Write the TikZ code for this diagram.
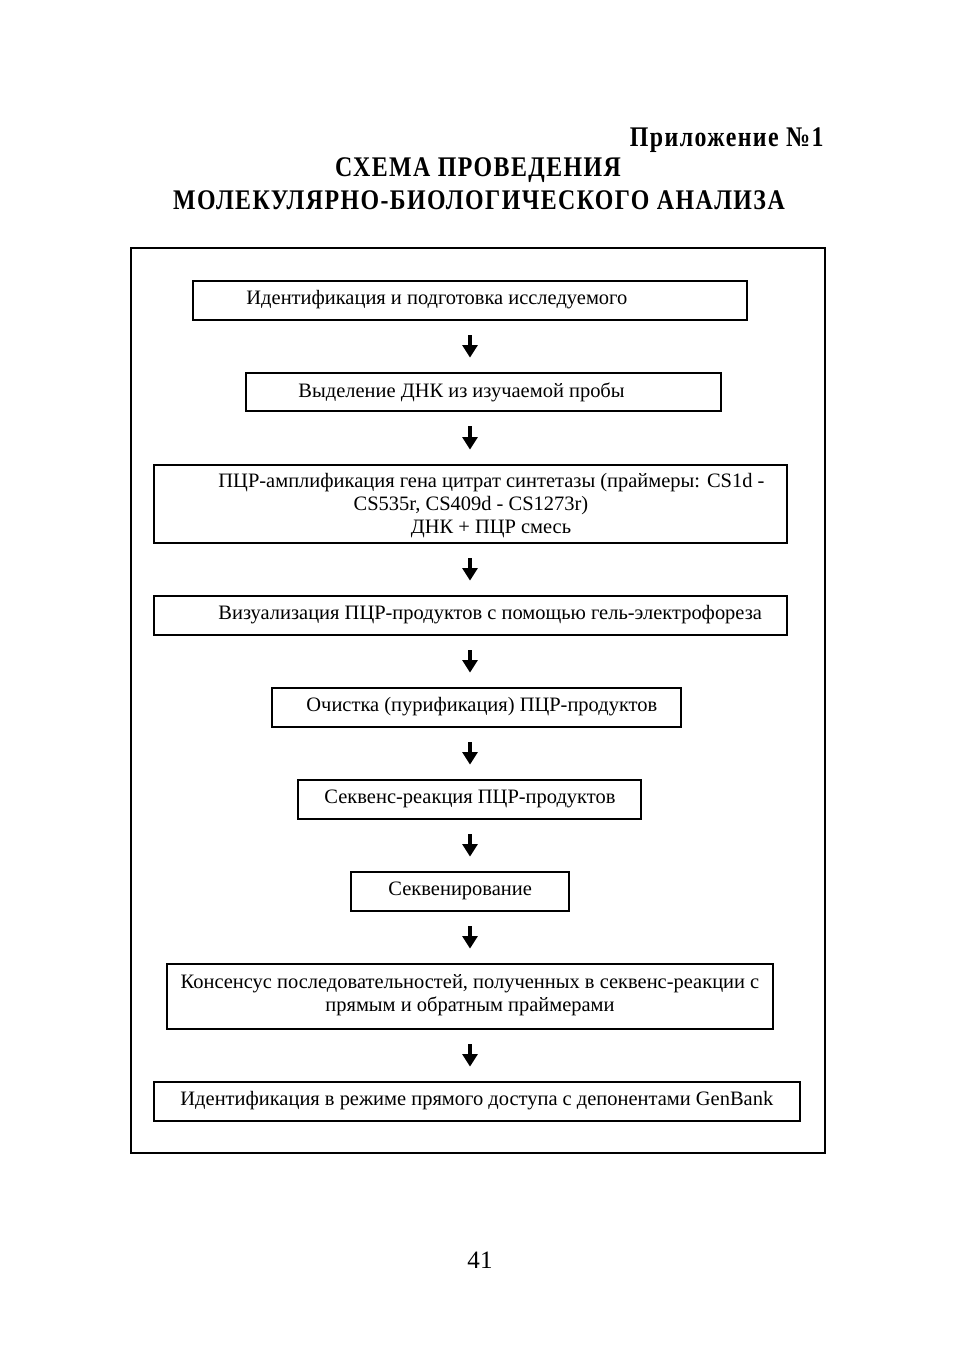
\documentclass[tikz,border=0pt]{standalone}
\usepackage{fontspec}
\setmainfont{Liberation Serif}
\newfontfamily\headfont{Liberation Serif Bold}[FakeStretch=0.84, LetterSpace=5]
\usetikzlibrary{arrows.meta,positioning,fit}

\tikzset{
  box/.style={draw, line width=0.5pt, inner sep=0pt},
  txt/.style={inner sep=0pt, font=\fontsize{9}{10.3}\selectfont},
  head/.style={inner sep=0pt, font=\headfont\fontsize{12.5}{14}\selectfont},
  flow/.style={-{Triangle[width=6.5pt,length=5.5pt]}, line width=1.4pt,
    shorten <=6.5pt, shorten >=6.5pt},
}

\begin{document}
\begin{tikzpicture}[x=0.4396pt, y=-0.4396pt]
  \useasboundingbox (0,0) rectangle (958,1350);
  % heading
  \node[head, anchor=east] (app) at (824,140) {Приложение №1};
  \node[head] (tit1) at (478,170) {СХЕМА ПРОВЕДЕНИЯ};
  \node[head] (tit2) at (479,200) {МОЛЕКУЛЯРНО-БИОЛОГИЧЕСКОГО АНАЛИЗА};
  % frame
  \draw[line width=1.3pt] (131,248) rectangle (825,1153);
  \coordinate (ax) at (470,0);
  % boxes
  \node[box, fit={(193,281) (747,320)}] (b1) {};
  \node[txt, anchor=west] (t1) at (246,300) {Идентификация и подготовка исследуемого};
  \node[box, fit={(246,373) (721,411)}] (b2) {};
  \node[txt, anchor=west] (t2) at (298,392) {Выделение ДНК из изучаемой пробы};
  \node[box, fit={(154,465) (787,543)}] (b3) {};
  \node[txt, anchor=west] (t3a) at (218,483) {ПЦР-амплификация гена цитрат синтетазы (праймеры: CS1d -};
  \node[txt] (t3b) at (471,506) {CS535r, CS409d - CS1273r)};
  \node[txt] (t3c) at (491,529) {ДНК + ПЦР смесь};
  \node[box, fit={(154,596) (787,635)}] (b4) {};
  \node[txt, anchor=west] (t4) at (218,615) {Визуализация ПЦР-продуктов с помощью гель-электрофореза};
  \node[box, fit={(272,688) (681,727)}] (b5) {};
  \node[txt, anchor=west] (t5) at (306,707) {Очистка (пурификация) ПЦР-продуктов};
  \node[box, fit={(298,780) (641,819)}] (b6) {};
  \node[txt, anchor=west] (t6) at (324,799) {Секвенс-реакция ПЦР-продуктов};
  \node[box, fit={(351,872) (569,911)}] (b7) {};
  \node[txt, anchor=west] (t7) at (388,891) {Секвенирование};
  \node[box, fit={(167,964) (773,1029)}] (b8) {};
  \node[txt, align=center] (t8) at (470,995) {Консенсус последовательностей, полученных в секвенс-реакции с\\ прямым и обратным праймерами};
  \node[box, fit={(154,1082) (800,1121)}] (b9) {};
  \node[txt, anchor=west] (t9) at (180,1101) {Идентификация в режиме прямого доступа с депонентами GenBank};
  % arrows
  \draw[flow] (b1.south -| ax) -- (b2.north -| ax);
  \draw[flow] (b2.south -| ax) -- (b3.north -| ax);
  \draw[flow] (b3.south -| ax) -- (b4.north -| ax);
  \draw[flow] (b4.south -| ax) -- (b5.north -| ax);
  \draw[flow] (b5.south -| ax) -- (b6.north -| ax);
  \draw[flow] (b6.south -| ax) -- (b7.north -| ax);
  \draw[flow] (b7.south -| ax) -- (b8.north -| ax);
  \draw[flow] (b8.south -| ax) -- (b9.north -| ax);
  % page number
  \node[inner sep=0pt, font=\fontsize{11}{13}\selectfont] (pg) at (480,1260) {41};
\end{tikzpicture}
\end{document}
